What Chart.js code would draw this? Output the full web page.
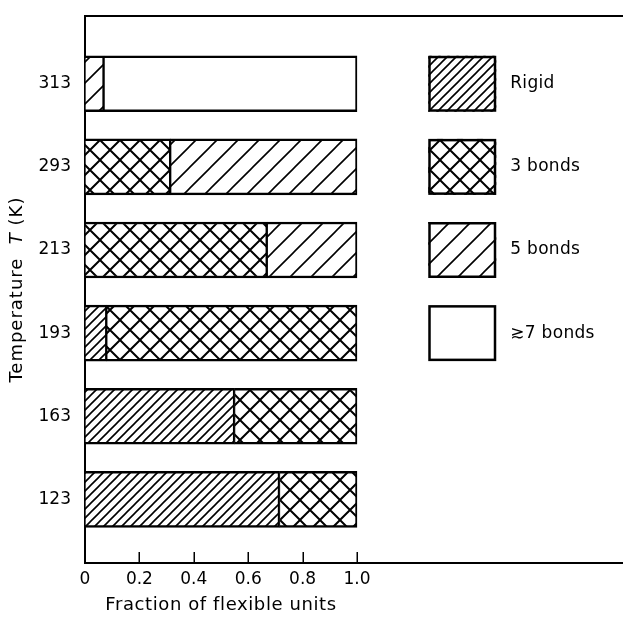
<!DOCTYPE html>
<html>
<head>
<meta charset="utf-8">
<script src="https://cdn.jsdelivr.net/npm/chart.js@4.4.0/dist/chart.umd.min.js"></script>
<style>
  html, body { margin: 0; padding: 0; background: #fff; }
  #wrap { width: 623px; height: 618px; }
</style>
</head>
<body>
<div id="wrap"><canvas id="c" width="623" height="618"></canvas></div>
<script>
// Temperature rows (bottom to top) and their positions on the vertical axis
const temperatures = ['123', '163', '193', '213', '293', '313'];
const rowPositions = [1, 2, 3, 4, 5, 6];

// Fraction of flexible units in each class, per temperature
const seriesNames = ['Rigid', '3 bonds', '5 bonds', '\u22737 bonds'];
const rigid  = [0.715, 0.55, 0.08, null, null, null];
const bonds3 = [0.285, 0.45, 0.92, 0.67, 0.315, null];
const bonds5 = [null, null, null, 0.33, 0.685, 0.07];
const bonds7 = [null, null, null, null, null, 0.93];

const xTickValues = [0, 0.2, 0.4, 0.6, 0.8, 1.0];
const xTickLabels = ['0', '0.2', '0.4', '0.6', '0.8', '1.0'];

const FONT = 'DejaVu Sans';

// Hatch fills
function hatch(size, width, forward, backward) {
  const cv = document.createElement('canvas');
  cv.width = size; cv.height = size;
  const g = cv.getContext('2d');
  g.fillStyle = '#fff';
  g.fillRect(0, 0, size, size);
  g.strokeStyle = '#000';
  g.lineWidth = width;
  g.lineCap = 'square';
  g.beginPath();
  if (forward) {
    g.moveTo(-size, size * 2); g.lineTo(size * 2, -size);
    g.moveTo(-size, size); g.lineTo(size, -size);
    g.moveTo(0, size * 2); g.lineTo(size * 2, 0);
  }
  if (backward) {
    g.moveTo(-size, -size); g.lineTo(size * 2, size * 2);
    g.moveTo(-size, 0); g.lineTo(size, size * 2);
    g.moveTo(0, -size); g.lineTo(size * 2, size);
  }
  g.stroke();
  return g.createPattern(cv, 'repeat');
}

const fills = [
  hatch(9, 1.6, true, false),   // rigid: dense single hatch
  hatch(20, 2.0, true, true),   // 3 bonds: cross hatch
  hatch(21, 1.6, true, false),  // 5 bonds: sparse single hatch
  '#ffffff'                     // 7 or more bonds: open
];

const seriesValues = [rigid, bonds3, bonds5, bonds7];

function toPoints(vals) {
  return rowPositions
    .map((p, i) => ({ x: vals[i], y: p }))
    .filter(d => d.x !== null);
}

const datasets = seriesValues.map((vals, i) => ({
  label: seriesNames[i],
  data: toPoints(vals),
  backgroundColor: fills[i],
  borderColor: '#000',
  borderWidth: { top: 2.5, bottom: 2.5, left: 1, right: 2 },
  borderSkipped: false,
  barThickness: 56
}));

// Inward tick marks, axis titles and the key drawn inside the frame
const decorations = {
  id: 'decorations',
  afterDraw(chart) {
    const ctx = chart.ctx;
    const xs = chart.scales.x;
    const ys = chart.scales.y;
    const area = chart.chartArea;
    ctx.save();
    ctx.fillStyle = '#000';

    // tick marks rising from the bottom axis
    ctx.strokeStyle = '#000';
    ctx.lineWidth = 1.5;
    ctx.beginPath();
    xTickValues.forEach(v => {
      const px = Math.round(xs.getPixelForValue(v)) + 0.25;
      ctx.moveTo(px, area.bottom);
      ctx.lineTo(px, area.bottom - 11);
    });
    ctx.stroke();

    // x-axis title, centred under the 0..1 range
    ctx.font = '18px "' + FONT + '"';
    ctx.letterSpacing = '0.6px';
    ctx.textAlign = 'center';
    ctx.textBaseline = 'middle';
    ctx.fillText('Fraction of flexible units', xs.getPixelForValue(0.5), 605);

    // y-axis title with italic T
    ctx.save();
    ctx.letterSpacing = '1px';
    ctx.translate(17, (area.top + area.bottom) / 2);
    ctx.rotate(-Math.PI / 2);
    const partA = 'Temperature  ';
    const partB = 'T';
    const partC = ' (K)';
    const normal = '18px "' + FONT + '"';
    const italic = 'italic 18px "' + FONT + '"';
    ctx.font = normal; const wA = ctx.measureText(partA).width; const wC = ctx.measureText(partC).width;
    ctx.font = italic; const wB = ctx.measureText(partB).width;
    const x0 = -(wA + wB + wC) / 2;
    ctx.textAlign = 'left';
    ctx.font = normal; ctx.fillText(partA, x0, 0);
    ctx.font = italic; ctx.fillText(partB, x0 + wA, 0);
    ctx.font = normal; ctx.fillText(partC, x0 + wA + wB, 0);
    ctx.restore();

    // key
    ctx.letterSpacing = '0.3px';
    const bx0 = xs.getPixelForValue(1.262);
    const bx1 = xs.getPixelForValue(1.512);
    chart.data.datasets.forEach((ds, i) => {
      const cy = ys.getPixelForValue(rowPositions[rowPositions.length - 1 - i]);
      ctx.fillStyle = ds.backgroundColor;
      ctx.fillRect(bx0, cy - 28, bx1 - bx0, 56);
      ctx.strokeStyle = '#000';
      ctx.lineWidth = 2.5;
      ctx.strokeRect(bx0 + 1.25, cy - 26.75, bx1 - bx0 - 2.5, 53.5);
      ctx.fillStyle = '#000';
      ctx.font = '17px "' + FONT + '"';
      ctx.textAlign = 'left';
      ctx.textBaseline = 'middle';
      ctx.fillText(ds.label, bx1 + 14, cy);
    });
    ctx.restore();
  }
};

new Chart(document.getElementById('c'), {
  type: 'bar',
  data: { datasets },
  plugins: [decorations],
  options: {
    indexAxis: 'y',
    responsive: false,
    animation: false,
    devicePixelRatio: 1,
    layout: { padding: 0 },
    plugins: { legend: { display: false }, tooltip: { enabled: false } },
    scales: {
      x: {
        type: 'linear',
        position: 'bottom',
        stacked: true,
        min: 0,
        max: 1.978,
        afterBuildTicks: s => { s.ticks = xTickValues.map(v => ({ value: v })); },
        ticks: {
          autoSkip: false,
          maxRotation: 0,
          color: '#000',
          padding: 6,
          font: { family: FONT, size: 17 },
          callback: (v, i) => xTickLabels[i]
        },
        grid: { display: false, drawTicks: false },
        border: { display: true, color: '#000', width: 2 },
        afterFit: s => { s.height = 55; }
      },
      x2: {
        type: 'linear',
        position: 'top',
        min: 0,
        max: 1,
        ticks: { display: false },
        grid: { display: false },
        border: { display: true, color: '#000', width: 2 },
        afterFit: s => { s.height = 13; }
      },
      y: {
        type: 'linear',
        stacked: true,
        offset: false,
        min: 0.234,
        max: 6.813,
        afterBuildTicks: s => { s.ticks = rowPositions.map(v => ({ value: v })); },
        ticks: {
          autoSkip: false,
          color: '#000',
          padding: 6,
          font: { family: FONT, size: 17 },
          callback: v => temperatures[rowPositions.indexOf(v)]
        },
        grid: { display: false, offset: false },
        border: { display: true, color: '#000', width: 2 },
        afterFit: s => { s.width = 85; }
      }
    }
  }
});
</script>
</body>
</html>
